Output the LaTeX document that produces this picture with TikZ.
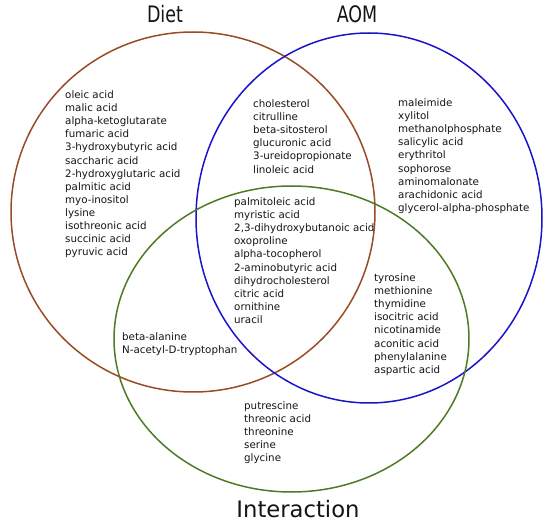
\documentclass[tikz,border=0pt]{standalone}
\usepackage{fontspec}
\setmainfont{DejaVu Sans}
\usepackage{graphicx}
\usetikzlibrary{positioning}
\definecolor{dietBrown}{HTML}{9A4B26}
\definecolor{aomBlue}{HTML}{1C14C8}
\definecolor{intGreen}{HTML}{4F7A24}
\definecolor{nInk}{HTML}{141414}
\tikzset{
  setline/.style={line width=1.5pt},
  list/.style={anchor=north west, align=left, inner sep=0pt, text=nInk,
    font=\fontsize{10.3}{13.1}\selectfont},
  title/.style={anchor=base, inner sep=0pt, text=nInk,
    font=\fontsize{22.7}{27}\selectfont},
}

\begin{document}
\begin{tikzpicture}[x=1pt,y=-1pt]
  \useasboundingbox (0,0) rectangle (550,524);
  % the three sets
  \draw[setline, dietBrown] (193,212) ellipse [x radius=182, y radius=180];
  \draw[setline, aomBlue] (369,218) ellipse [x radius=173, y radius=185];
  \draw[setline, intGreen] (291.5,339) ellipse [x radius=177.5, y radius=153];

  % set names
  \node[title] (diet) at (165,23) {\scalebox{0.77}[1]{Diet}};
  \node[title] (aom) at (357,23) {\scalebox{0.77}[1]{AOM}};
  \node[title] (interaction) at (298,517) {Interaction};

  % metabolites in each region
  \node[list] (dietOnly) at (65,90.5) {oleic acid\\malic acid\\alpha-ketoglutarate\\fumaric acid\\
    3-hydroxybutyric acid\\saccharic acid\\2-hydroxyglutaric acid\\palmitic acid\\
    myo-inositol\\lysine\\isothreonic acid\\succinic acid\\pyruvic acid};
  \node[list] (dietAom) at (253,99.5) {cholesterol\\citrulline\\beta-sitosterol\\
    glucuronic acid\\3-ureidopropionate\\linoleic acid};
  \node[list] (aomOnly) at (398,98.5) {maleimide\\xylitol\\methanolphosphate\\
    salicylic acid\\erythritol\\sophorose\\aminomalonate\\arachidonic acid\\
    glycerol-alpha-phosphate};
  \node[list] (allThree) at (234,197.5) {palmitoleic acid\\myristic acid\\
    2,3-dihydroxybutanoic acid\\oxoproline\\alpha-tocopherol\\2-aminobutyric acid\\
    dihydrocholesterol\\citric acid\\ornithine\\uracil};
  \node[list] (aomInt) at (374,273.5) {tyrosine\\methionine\\thymidine\\isocitric acid\\
    nicotinamide\\aconitic acid\\phenylalanine\\aspartic acid};
  \node[list] (dietInt) at (122,332.5) {beta-alanine\\N-acetyl-D-tryptophan};
  \node[list] (intOnly) at (244,401.5) {putrescine\\threonic acid\\threonine\\serine\\glycine};
\end{tikzpicture}
\end{document}
